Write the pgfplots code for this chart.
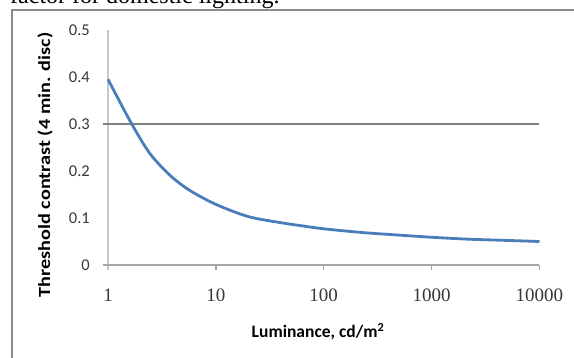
\documentclass[border=0pt]{standalone}
\usepackage{pgfplots}
\pgfplotsset{compat=1.18}
\usepackage{fontspec}
\setmainfont{Carlito}
\newfontfamily\timesf{Liberation Serif}
\definecolor{curveblue}{HTML}{4A7EBB}
\definecolor{framegray}{HTML}{8C8C8C}
\definecolor{ylinegray}{HTML}{C8C8C8}
\definecolor{xlinegray}{HTML}{A6A6A6}
\definecolor{gridgray}{HTML}{808080}
\definecolor{labgray}{HTML}{383838}
\begin{document}
\begin{tikzpicture}
\useasboundingbox (0pt,0pt) rectangle (574pt,358pt);
\clip (0pt,0pt) rectangle (574pt,358pt);
\fill[white] (0pt,0pt) rectangle (574pt,358pt);
\draw[framegray, line width=2pt] (12pt,-20pt) -- (12pt,348pt) -- (620pt,348pt);
\node[anchor=base west, inner sep=0pt, font=\timesf\fontsize{24}{28}\selectfont] at (10pt,354pt) {factor for domestic lighting.};
\begin{axis}[
  at={(108pt,93pt)}, anchor=south west, scale only axis,
  width=431.5pt, height=235pt,
  xmode=log, xmin=1, xmax=10000, ymin=0, ymax=0.5,
  axis line style={draw=none}, tick style={draw=none},
  xtick={1,10,100,1000,10000}, xticklabels={1,10,100,1000,10000},
  ytick={0,0.1,0.2,0.3,0.4,0.5}, yticklabels={0,0.1,0.2,0.3,0.4,0.5},
  xticklabel style={font=\timesf\fontsize{19}{22}\selectfont, text=labgray, anchor=north, inner sep=0pt, yshift=-24pt},
  yticklabel style={font=\fontsize{16.5}{20}\selectfont, text=labgray, anchor=east, inner sep=0pt, xshift=-18pt},
  clip=false,
]
\draw[ylinegray, line width=1.3pt] (axis cs:1,0.5) -- (axis cs:1,0) -- ([yshift=-5pt]axis cs:1,0);
\draw[xlinegray, line width=1.3pt] ([xshift=-5pt]axis cs:1,0) -- (axis cs:10000,0);
\draw[xlinegray, line width=1.3pt] (axis cs:10,0) -- ([yshift=-5pt]axis cs:10,0);
\draw[xlinegray, line width=1.3pt] (axis cs:100,0) -- ([yshift=-5pt]axis cs:100,0);
\draw[xlinegray, line width=1.3pt] (axis cs:1000,0) -- ([yshift=-5pt]axis cs:1000,0);
\draw[xlinegray, line width=1.3pt] (axis cs:10000,0) -- ([yshift=-5pt]axis cs:10000,0);
\draw[gridgray, line width=1.2pt] ([xshift=-5pt]axis cs:1,0.3) -- (axis cs:10000,0.3);
\addplot[curveblue, line width=2.8pt, smooth, no markers] coordinates {
(1,0.395) (1.66,0.300) (2.45,0.237) (3.75,0.191) (5.7,0.159) (10,0.129)
(20,0.103) (40,0.090) (60,0.084) (100,0.077) (230,0.069) (470,0.064)
(1000,0.059) (2150,0.055) (4000,0.053) (10000,0.050)
};
\end{axis}
\node[rotate=90, xscale=1.19, inner sep=0pt, font=\bfseries\fontsize{17}{20}\selectfont] at (45pt,193pt) {Threshold contrast (4 min. disc)};
\node[anchor=base, inner sep=0pt, font=\bfseries\fontsize{17.5}{20}\selectfont] at (318pt,20pt) {Luminance, cd/m\textsuperscript{2}};
\end{tikzpicture}
\end{document}
